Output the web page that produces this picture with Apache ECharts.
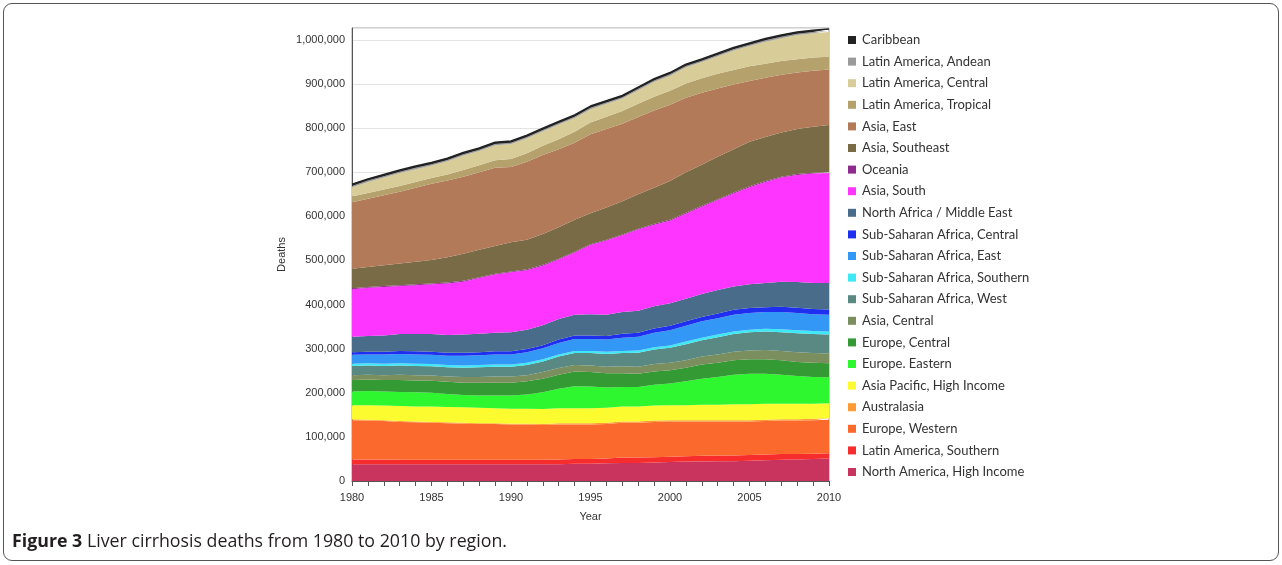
<!DOCTYPE html>
<html>
<head>
<meta charset="utf-8">
<script src="https://cdn.jsdelivr.net/npm/echarts@6/dist/echarts.min.js"></script>
<style>
html,body{margin:0;padding:0;background:#fff;}
#frame{position:absolute;left:3px;top:3px;width:1274px;height:556px;border:1px solid #555;border-radius:9px;}
#chart{position:absolute;left:0;top:0;width:1282px;height:565px;}
</style>
</head>
<body>
<div id="frame"></div>
<div id="chart"></div>
<script>
const years = ['1980','1981','1982','1983','1984','1985','1986','1987','1988','1989','1990','1991','1992','1993','1994','1995','1996','1997','1998','1999','2000','2001','2002','2003','2004','2005','2006','2007','2008','2009','2010'];
const yTicks = [0,100000,200000,300000,400000,500000,600000,700000,800000,900000,1000000];

// values in thousands of deaths, stacked bottom to top
const northAmericaHighIncome = [38,38,38,38,38, 38,38,38,38,38, 38,38,38,38,39, 39,40,41,41,42, 43,44,44,45,45, 46,47,48,49,50, 51];
const latinAmericaSouthern   = [11,11,11,10,10, 10,10,10,10,10, 10,10,10,11,11, 11,11,12,12,12, 12,12,13,13,13, 13,13,13,12,12, 12];
const europeWestern          = [89,88,87,86,85, 84,83,82,81,81, 80,80,79,79,78, 78,78,79,79,80, 80,79,78,77,77, 76,76,76,76,76, 76];
const australasia            = [2,2,2,2,2, 2,2,2,2,2, 2,2,2,3,3, 3,3,3,3,3, 3,3,3,3,3, 3,3,3,3,3, 3];
const asiaPacificHighIncome  = [32,33,33,34,34, 35,35,35,35,34, 34,34,34,34,34, 34,34,34,34,34, 34,34,35,35,36, 36,36,35,35,34, 34];
const europeEastern          = [31,32,32,32,32, 31,29,28,28,29, 30,32,38,44,50, 49,46,44,44,47, 49,54,59,63,67, 69,68,66,63,61, 59];
const europeCentral          = [26,26,26,27,27, 27,28,28,29,29, 29,30,31,32,33, 33,32,31,30,30, 30,31,32,32,33, 33,33,33,32,32, 32];
const asiaCentral            = [11,11,11,12,12, 12,12,13,13,14, 14,14,15,15,15, 15,15,16,16,17, 17,17,18,19,19, 20,21,21,22,22, 22];
const ssaWest                = [21,21,21,21,21, 21,21,21,22,22, 22,23,24,26,27, 28,29,30,32,33, 34,36,37,39,40, 41,42,42,43,43, 43];
const ssaSouthern            = [5,5,5,5,5, 5,5,5,5,5, 5,5,5,5,5, 5,5,5,5,5, 5,6,6,6,6, 6,6,7,7,7, 7];
const ssaEast                = [20,20,21,21,21, 21,21,22,22,23, 23,24,25,26,27, 27,28,30,31,33, 35,36,37,37,38, 38,38,39,39,38, 38];
const ssaCentral             = [6,6,6,7,7, 7,7,7,7,7, 7,7,7,8,8, 8,8,9,9,10, 10,10,10,11,11, 11,11,12,12,12, 12];
const northAfricaMiddleEast  = [35,36,37,38,39, 40,40,41,42,42, 43,44,45,46,47, 48,48,49,50,50, 51,51,52,53,53, 54,55,57,58,59, 60];
const asiaSouth              = [108,109,110,109,111, 113,117,120,126,132, 136,135,135,135,141, 157,168,174,184,185, 187,193,198,204,211, 220,229,236,243,248, 249];
const oceania                = [2,2,2,2,2, 2,2,2,2,2, 2,2,2,2,2, 2,2,2,2,2, 2,2,2,2,2, 2,2,2,2,2, 2];
const asiaSoutheast          = [44,45,47,49,51, 53,57,61,62,63, 66,67,70,71,72, 70,73,75,78,82, 88,92,93,96,98, 101,100,100,102,104, 107];
const asiaEast               = [151,155,159,163,168, 173,174,175,176,177, 171,177,179,177,175, 179,178,176,175,175, 173,169,163,155,147, 138,134,131,128,127, 126];
const latinAmericaTropical   = [13,13,13,13,13, 13,14,15,16,17, 18,19,21,23,25, 27,28,29,30,31, 32,32,33,33,33, 33,32,31,30,30, 29];
const latinAmericaCentral    = [21,25,27,29,29, 28,30,33,32,34, 34,34,33,33,31, 30,29,28,31,34, 34,37,37,40,44, 46,50,52,55,55, 56];
const latinAmericaAndean     = [3,3,3,3,3, 3,3,3,3,3, 3,3,3,3,3, 3,3,3,3,3, 3,3,3,3,3, 3,3,3,3,3, 3];
const caribbean              = [4,4,4,4,4, 4,4,4,4,4, 4,4,4,4,4, 4,4,4,4,4, 4,4,4,4,4, 4,4,4,4,4, 4];

const seriesNames = ['North America, High Income','Latin America, Southern','Europe, Western','Australasia','Asia Pacific, High Income','Europe. Eastern','Europe, Central','Asia, Central','Sub-Saharan Africa, West','Sub-Saharan Africa, Southern','Sub-Saharan Africa, East','Sub-Saharan Africa, Central','North Africa / Middle East','Asia, South','Oceania','Asia, Southeast','Asia, East','Latin America, Tropical','Latin America, Central','Latin America, Andean','Caribbean'];
const seriesValues = [northAmericaHighIncome,latinAmericaSouthern,europeWestern,australasia,asiaPacificHighIncome,europeEastern,europeCentral,asiaCentral,ssaWest,ssaSouthern,ssaEast,ssaCentral,northAfricaMiddleEast,asiaSouth,oceania,asiaSoutheast,asiaEast,latinAmericaTropical,latinAmericaCentral,latinAmericaAndean,caribbean];
const seriesColors = ['#c9345f','#f72d2d','#fb6a2c','#ff9a35','#fbfb2f','#2ff72f','#349a34','#7b8e5d','#598982','#3ee8f5','#3397f5','#1f2ff0','#486c8a','#fe35fe','#8e2a8e','#7a6b47','#b37a5a','#b5a16c','#d8cc98','#9a9a9a','#222222'];

const chart = echarts.init(document.getElementById('chart'));
const series = seriesNames.map((name, i) => ({
  name: name,
  type: 'line',
  stack: 'total',
  showSymbol: false,
  symbol: 'none',
  smooth: false,
  data: seriesValues[i].map(v => v * 1000),
  lineStyle: { width: name === 'Caribbean' ? 1.5 : 0, color: seriesColors[i] },
  itemStyle: { color: seriesColors[i] },
  areaStyle: { color: seriesColors[i], opacity: 1 },
  emphasis: { disabled: true },
  z: 2
}));

chart.setOption({
  animation: false,
  backgroundColor: 'transparent',
  title: {
    text: '{b|Figure 3} Liver cirrhosis deaths from 1980 to 2010 by region.',
    left: 7, top: 528,
    textStyle: {
      rich: {
        b: { fontFamily: 'Open Sans', fontWeight: 'bold', fontSize: 17.8, color: '#231f20' }
      },
      fontFamily: 'Open Sans', fontWeight: 'normal', fontSize: 17.8, color: '#231f20'
    }
  },
  grid: { left: 352, right: 453, top: 28, bottom: 84, show: true, borderColor: '#a0a0a0', borderWidth: 1 },
  legend: {
    orient: 'vertical',
    left: 843, top: 28,
    itemWidth: 8, itemHeight: 8, itemGap: 7.6,
    icon: 'rect',
    data: seriesNames.slice().reverse(),
    textStyle: { fontFamily: 'Lato', fontSize: 13, color: '#333', lineHeight: 14, padding: [0,0,0,1] },
    selectedMode: false
  },
  xAxis: {
    type: 'category', boundaryGap: false, data: years,
    name: 'Year', nameLocation: 'middle', nameGap: 30,
    nameTextStyle: { fontFamily: 'Liberation Sans', fontSize: 11, color: '#333' },
    axisLine: { show: true, lineStyle: { color: '#555', width: 1 } },
    axisTick: { show: true, length: 5, interval: 0, lineStyle: { color: '#555' } },
    splitLine: { show: false },
    axisLabel: { fontFamily: 'Liberation Sans', fontSize: 11, color: '#333', margin: 11, interval: 4 }
  },
  yAxis: {
    type: 'value', min: 0, max: 1027000, interval: 100000,
    name: 'Deaths', nameLocation: 'middle', nameGap: 65,
    nameTextStyle: { fontFamily: 'Liberation Sans', fontSize: 11, color: '#333' },
    axisLine: { show: true, lineStyle: { color: '#555', width: 1 } },
    axisTick: { show: false },
    splitLine: { show: true, lineStyle: { color: '#e4e4e4', width: 1 } },
    axisLabel: {
      fontFamily: 'Liberation Sans', fontSize: 11, color: '#333', margin: 7, showMaxLabel: false,
      formatter: v => yTicks.indexOf(v) >= 0 ? v.toLocaleString('en-US') : ''
    }
  },
  series: series
});
</script>
</body>
</html>
